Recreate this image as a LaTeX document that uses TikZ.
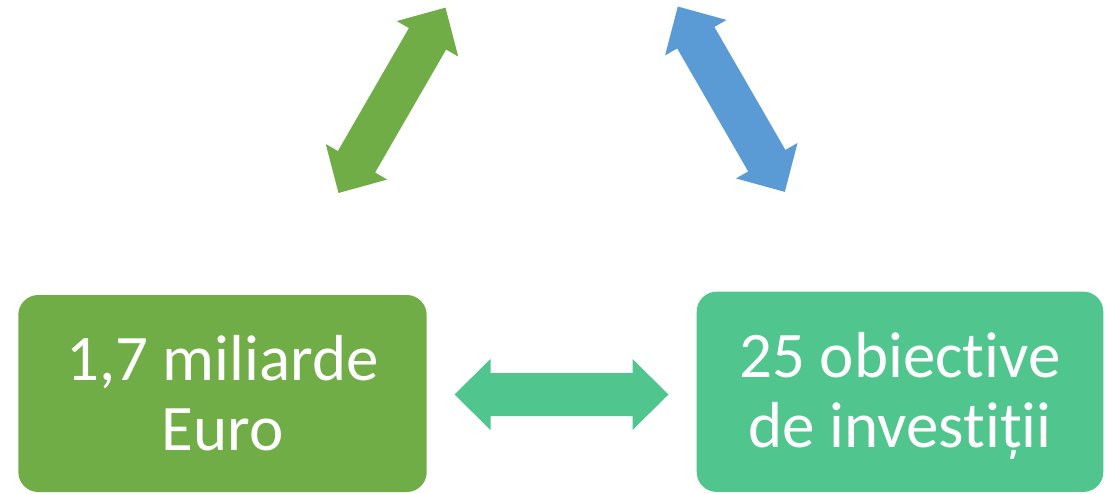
\documentclass[tikz,border=0pt]{standalone}
\usepackage{fontspec}
\setmainfont{Carlito}[Ligatures=NoCommon]
\definecolor{cgreen}{HTML}{70AD47}
\definecolor{cteal}{HTML}{50C58E}
\definecolor{cblue}{HTML}{5B9BD5}
\tikzset{
  box/.style={rounded corners=20pt, inner sep=0pt},
  boxtext/.style={text=white, font=\fontsize{65}{70}\selectfont, align=center, inner sep=0pt},
  dblarrow/.pic={
    \fill[pic actions] (-107,0) -- (-71,35.5) -- (-71,21.5) -- (71,21.5) -- (71,35.5)
      -- (107,0) -- (71,-35.5) -- (71,-21.5) -- (-71,-21.5) -- (-71,-35.5) -- cycle;
  }
}
\begin{document}
\begin{tikzpicture}[x=1pt,y=-1pt]
\useasboundingbox (0,0) rectangle (1105,493);
\node[box, fill=cgreen, minimum width=408.4pt, minimum height=197pt] (money) at (222.5,393.5) {};
\node[box, fill=cteal, minimum width=406.6pt, minimum height=200.3pt] (goals) at (900,391.8) {};
\node[boxtext] (moneytxt) at (222.5,393) {1,7 miliarde\\Euro};
\node[boxtext] (goalstxt) at (900,396) {25 obiective\\de investiții};
\pic[fill=cgreen, rotate=60] (leftarrow) at (392,100.3) {dblarrow};
\pic[fill=cblue, rotate=-60] (rightarrow) at (731.3,99.2) {dblarrow};
\pic[fill=cteal] (bottomarrow) at (561.5,394.5) {dblarrow};
\end{tikzpicture}
\end{document}
